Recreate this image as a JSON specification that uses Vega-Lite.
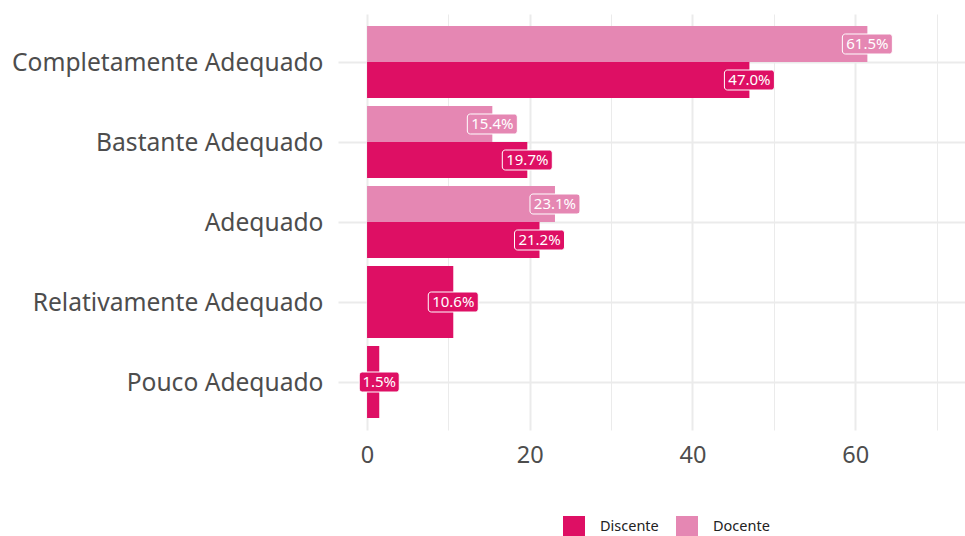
{
  "$schema": "https://vega.github.io/schema/vega-lite/v6.json",
  "width": 627,
  "height": 416,
  "autosize": {"type": "none"},
  "padding": {"left": 338, "top": 14, "right": 0, "bottom": 106},
  "background": "white",
  "config": {"view": {"stroke": null}, "font": "Noto Sans"},
  "data": {
    "values": [
      {"categoria": "Completamente Adequado", "grupo": "Docente", "valor": 61.5, "label": "61.5%"},
      {"categoria": "Completamente Adequado", "grupo": "Discente", "valor": 47.0, "label": "47.0%"},
      {"categoria": "Bastante Adequado", "grupo": "Docente", "valor": 15.4, "label": "15.4%"},
      {"categoria": "Bastante Adequado", "grupo": "Discente", "valor": 19.7, "label": "19.7%"},
      {"categoria": "Adequado", "grupo": "Docente", "valor": 23.1, "label": "23.1%"},
      {"categoria": "Adequado", "grupo": "Discente", "valor": 21.2, "label": "21.2%"},
      {"categoria": "Relativamente Adequado", "grupo": "Discente", "valor": 10.6, "label": "10.6%"},
      {"categoria": "Pouco Adequado", "grupo": "Discente", "valor": 1.5, "label": "1.5%"}
    ]
  },
  "transform": [{"joinaggregate": [{"op": "count", "as": "n"}], "groupby": ["categoria"]}],
  "encoding": {
    "y": {
      "field": "categoria",
      "type": "nominal",
      "sort": ["Completamente Adequado", "Bastante Adequado", "Adequado", "Relativamente Adequado", "Pouco Adequado"],
      "scale": {"paddingInner": 0.1, "paddingOuter": 0.15},
      "axis": {
        "title": null, "ticks": false, "domain": false, "grid": true,
        "gridColor": "#ebebeb", "gridWidth": 2,
        "labelFontSize": 24.6, "labelColor": "#4d4d4d", "labelPadding": 15, "labelLimit": 400,
        "labelOffset": 2
      }
    },
    "x": {
      "field": "valor",
      "type": "quantitative",
      "scale": {"domain": [-3.57, 73.5], "nice": false, "zero": false},
      "axis": {
        "title": null, "ticks": false, "domain": false, "grid": true,
        "values": [0, 10, 20, 30, 40, 50, 60, 70],
        "labelExpr": "datum.value % 20 === 0 ? datum.label : ''",
        "labelOverlap": false,
        "gridColor": "#ebebeb",
        "gridWidth": {"condition": {"test": "datum.value % 20 === 0", "value": 2}, "value": 1},
        "labelFontSize": 23.5, "labelColor": "#4d4d4d", "labelPadding": 13
      }
    },
    "color": {
      "field": "grupo",
      "type": "nominal",
      "scale": {"domain": ["Discente", "Docente"], "range": ["#de0f64", "#e587b3"]},
      "legend": {
        "orient": "none", "legendX": 225, "legendY": 502, "direction": "horizontal",
        "title": null, "symbolType": "square", "symbolSize": 484, "symbolStrokeWidth": 0,
        "symbolOpacity": 1, "labelFontSize": 14.5, "labelOffset": 15, "columnPadding": 17,
        "labelColor": "#222222"
      }
    }
  },
  "layer": [
    {
      "transform": [{"filter": "datum.n == 2"}],
      "mark": {"type": "bar"},
      "encoding": {
        "yOffset": {"field": "grupo", "type": "nominal", "sort": ["Docente", "Discente"], "scale": {"paddingInner": 0, "paddingOuter": 0}}
      }
    },
    {
      "transform": [{"filter": "datum.n == 1"}],
      "mark": {"type": "bar"}
    },
    {
      "transform": [{"filter": "datum.n == 2"}],
      "mark": {"type": "bar", "xOffset": -25, "x2Offset": 25, "size": 20, "cornerRadius": 3, "stroke": "white", "strokeWidth": 1},
      "encoding": {
        "x2": {"field": "valor"},
        "yOffset": {"field": "grupo", "type": "nominal", "sort": ["Docente", "Discente"], "scale": {"paddingInner": 0, "paddingOuter": 0}}
      }
    },
    {
      "transform": [{"filter": "datum.n == 1 && datum.valor >= 10"}],
      "mark": {"type": "bar", "xOffset": -25, "x2Offset": 25, "size": 20, "cornerRadius": 3, "stroke": "white", "strokeWidth": 1},
      "encoding": {"x2": {"field": "valor"}}
    },
    {
      "transform": [{"filter": "datum.n == 1 && datum.valor < 10"}],
      "mark": {"type": "bar", "xOffset": -20, "x2Offset": 20, "size": 20, "cornerRadius": 3, "stroke": "white", "strokeWidth": 1},
      "encoding": {"x2": {"field": "valor"}}
    },
    {
      "transform": [{"filter": "datum.n == 2"}],
      "mark": {"type": "text", "color": "white", "fontSize": 15, "align": "center", "baseline": "middle"},
      "encoding": {
        "text": {"field": "label"},
        "color": {"value": "white"},
        "yOffset": {"field": "grupo", "type": "nominal", "sort": ["Docente", "Discente"], "scale": {"paddingInner": 0, "paddingOuter": 0}}
      }
    },
    {
      "transform": [{"filter": "datum.n == 1"}],
      "mark": {"type": "text", "color": "white", "fontSize": 15, "align": "center", "baseline": "middle"},
      "encoding": {
        "text": {"field": "label"},
        "color": {"value": "white"}
      }
    }
  ]
}
